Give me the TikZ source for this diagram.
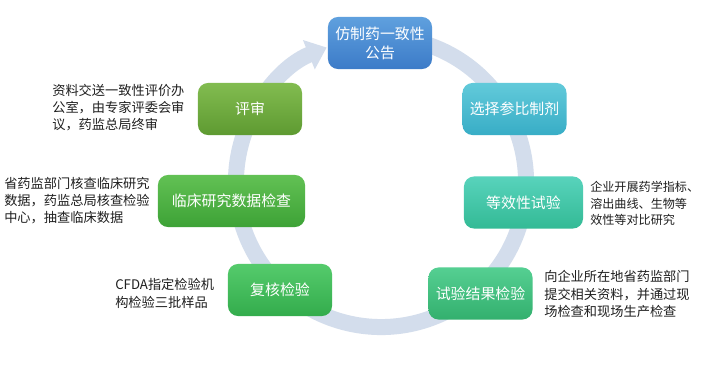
\documentclass[tikz,border=0pt]{standalone}
\usepackage{fontspec}
\setmainfont{Noto Sans CJK SC}
\usepackage{tikz}
\usetikzlibrary{arrows.meta,calc}
\definecolor{Ink}{HTML}{1F1F1F}
\definecolor{Ring}{HTML}{D3DDEC}
\definecolor{BlueTop}{HTML}{5FA0DE}
\definecolor{BlueBot}{HTML}{3C7BC8}
\definecolor{CyanTop}{HTML}{62CADA}
\definecolor{CyanBot}{HTML}{38ADC6}
\definecolor{TealTop}{HTML}{58D3BC}
\definecolor{TealBot}{HTML}{33BA95}
\definecolor{SeaTop}{HTML}{55CF92}
\definecolor{SeaBot}{HTML}{33B06E}
\definecolor{GreenTop}{HTML}{55CB6C}
\definecolor{GreenBot}{HTML}{33AC4C}
\definecolor{GrassTop}{HTML}{62C154}
\definecolor{GrassBot}{HTML}{3DA236}
\definecolor{OliveTop}{HTML}{82BC50}
\definecolor{OliveBot}{HTML}{5E9A31}
\tikzset{
  stage/.style={rounded corners=2.5mm,minimum width=2.6cm,minimum height=1.3cm,inner sep=1pt,align=center,text=white,font=\fontsize{10.6}{13.5}\selectfont},
  stageblue/.style={stage,top color=BlueTop,bottom color=BlueBot},
  stagecyan/.style={stage,top color=CyanTop,bottom color=CyanBot},
  stageteal/.style={stage,top color=TealTop,bottom color=TealBot},
  stagesea/.style={stage,top color=SeaTop,bottom color=SeaBot},
  stagegreen/.style={stage,top color=GreenTop,bottom color=GreenBot},
  stagegrass/.style={stage,top color=GrassTop,bottom color=GrassBot},
  stageolive/.style={stage,top color=OliveTop,bottom color=OliveBot},
  ring/.style={draw=Ring,line width=0.4cm,-{Triangle[width=0.76cm,length=0.48cm]}},
  note/.style={anchor=west,inner sep=0pt,align=left,text=Ink,font=\fontsize{9.4}{12.2}\selectfont}
}

\begin{document}
\begin{tikzpicture}[x=0.025cm,y=0.025cm]
  \useasboundingbox[fill=white] (0,0) rectangle (706,371);
  \coordinate (hub) at (381,189);
  % cycle arrow behind the stages
  \draw[ring] ($(hub)+(80:3.625cm)$) arc[start angle=80,end angle=-248,radius=3.625cm];
  \node[stageblue] (gonggao) at (380,328) {仿制药一致性\\公告};
  \node[stagecyan] (canbi) at (514.5,262) {选择参比制剂};
  \node[stageteal,minimum width=2.975cm] (dengxiao) at (523.5,168.5) {等效性试验};
  \node[stagesea] (jieguo) at (480.5,77.5) {试验结果检验};
  \node[stagegreen] (fuhe) at (280,81) {复核检验};
  \node[stagegrass,minimum width=3.675cm] (linchuang) at (231.5,170) {临床研究数据检查};
  \node[stageolive] (pingshen) at (250,262) {评审};
  % notes
  \node[note] (pingshennote) at (52,263.5) {资料交送一致性评价办\\公室，由专家评委会审\\议，药监总局终审};
  \node[note] (linchuangnote) at (4,170.5) {省药监部门核查临床研究\\数据，药监总局核查检验\\中心，抽查临床数据};
  \node[note] (fuhenote) at (115,77.5) {CFDA指定检验机\\构检验三批样品};
  \node[note,font=\fontsize{8.6}{11.8}\selectfont] (dengxiaonote) at (590,167.5) {企业开展药学指标、\\溶出曲线、生物等\\效性等对比研究};
  \node[note] (jieguonote) at (544,77) {向企业所在地省药监部门\\提交相关资料，并通过现\\场检查和现场生产检查};
\end{tikzpicture}
\end{document}
